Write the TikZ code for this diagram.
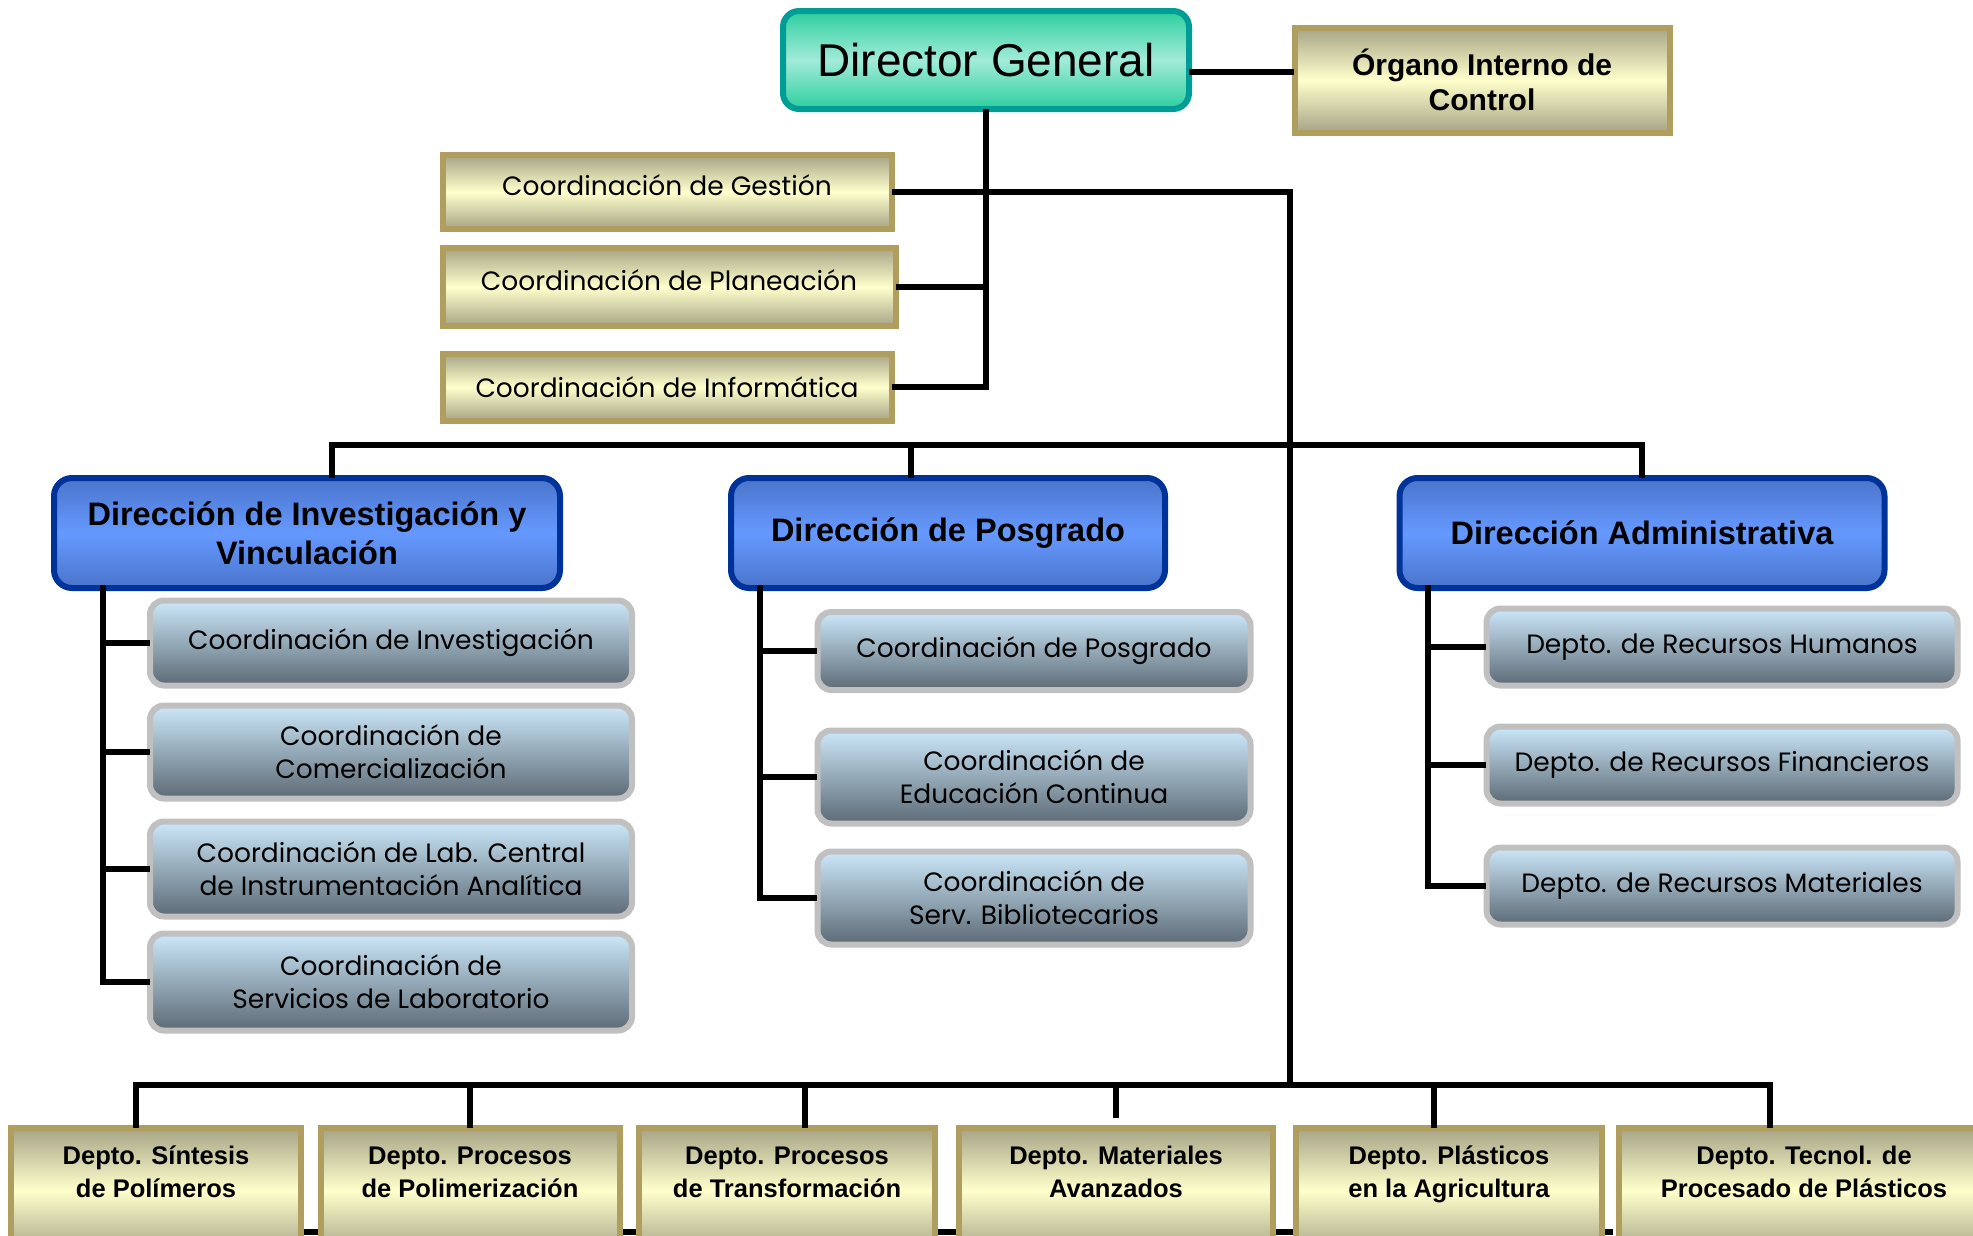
\documentclass[tikz,border=0pt]{standalone}
\usepackage{fontspec}
\setmainfont{Liberation Sans}
\newfontfamily\gothicfont{Poppins}
\usetikzlibrary{positioning}

\definecolor{tealborder}{HTML}{009C96}
\definecolor{tealedge}{HTML}{2CCF9E}
\definecolor{tealmid}{HTML}{A2EBD9}
\definecolor{khakiborder}{HTML}{B09E5E}
\definecolor{khakiedge}{HTML}{A6A486}
\definecolor{khakimid}{HTML}{FFFFCC}
\definecolor{blueborder}{HTML}{003399}
\definecolor{blueedge}{HTML}{4A74CB}
\definecolor{bluemid}{HTML}{6699FF}
\definecolor{greyborder}{HTML}{C0C0C0}
\definecolor{greytop}{HTML}{CCE8FA}
\definecolor{greybottom}{HTML}{5C6A75}

% keeps the two lines of a department at the same height
\newcommand{\ds}{\rule[-9pt]{0pt}{33pt}}

\tikzset{
  link/.style={line width=5.5pt, line cap=rect},
  director/.style={draw=tealborder, line width=6pt, rounded corners=16pt,
    top color=tealedge, bottom color=tealedge, middle color=tealmid,
    font=\fontsize{46}{52}\selectfont},
  khaki/.style={draw=khakiborder, line width=6pt,
    top color=khakiedge, bottom color=khakiedge, middle color=khakimid,
    align=center},
  coordbox/.style={khaki, font=\gothicfont\fontsize{26.5}{33}\selectfont},
  raised/.style={text height=20pt, text depth=14pt},
  organobox/.style={khaki, font=\bfseries\fontsize{30}{35}\selectfont},
  deptobox/.style={khaki, anchor=north, minimum height=125pt},
  deptotext/.style={align=center, font=\bfseries\fontsize{25.5}{33}\selectfont},
  direccion/.style={draw=blueborder, line width=6pt, rounded corners=18pt,
    top color=blueedge, bottom color=blueedge, middle color=bluemid,
    align=center, minimum height=110pt,
    font=\bfseries\fontsize{32.5}{39}\selectfont},
  unidad/.style={draw=greyborder, line width=6pt, rounded corners=14pt,
    top color=greytop, bottom color=greybottom, align=center,
    font=\gothicfont\fontsize{26.5}{33}\selectfont}
}

\begin{document}
\begin{tikzpicture}[x=1pt, y=-1pt]
  \useasboundingbox (0,0) rectangle (1973,1235);

  % line along the lower edge, behind the departments
  \coordinate (edgeL) at (250,1232);
  \coordinate (edgeR) at (1610,1232);
  \draw [link] (edgeL) -- (edgeR);

  % top of the chart
  \node [director, minimum width=406pt, minimum height=98pt] (dg) at (986,60) {Director General};
  \node [organobox, minimum width=375pt, minimum height=105pt] (organo) at (1482,80) {Órgano Interno de\\Control};

  \node [coordbox, raised, minimum width=449pt, minimum height=74pt] (gestion) at (667,192) {Coordinación de Gestión};
  \node [coordbox, raised, minimum width=453pt, minimum height=78pt] (planeacion) at (669,287) {Coordinación de Planeación};
  \node [coordbox, minimum width=449pt, minimum height=67pt] (informatica) at (667,387) {Coordinación de Informática};

  % direcciones
  \node [direccion, minimum width=506pt] (invest) at (307,533) {Dirección de Investigación y\\Vinculación};
  \node [direccion, minimum width=434pt] (posgrado) at (948,533) {Dirección de Posgrado};
  \node [direccion, minimum width=485pt] (admin) at (1642,533) {Dirección Administrativa};

  \begin{scope}[every node/.style={unidad, minimum width=482pt}]
    \node [minimum height=85pt] (inv1) at (391,643) {Coordinación de Investigación};
    \node [minimum height=93pt] (inv2) at (391,752) {Coordinación de\\Comercialización};
    \node [minimum height=95pt] (inv3) at (391,869) {Coordinación de Lab. Central\\de Instrumentación Analítica};
    \node [minimum height=97pt] (inv4) at (391,982) {Coordinación de\\Servicios de Laboratorio};
  \end{scope}

  \begin{scope}[every node/.style={unidad, minimum width=433pt}]
    \node [minimum height=78pt] (pos1) at (1034,651) {Coordinación de Posgrado};
    \node [minimum height=93pt] (pos2) at (1034,777) {Coordinación de\\Educación Continua};
    \node [minimum height=93pt] (pos3) at (1034,898) {Coordinación de\\Serv. Bibliotecarios};
  \end{scope}

  \begin{scope}[every node/.style={unidad, minimum width=471pt, minimum height=77pt}]
    \node (adm1) at (1722,647) {Depto. de Recursos Humanos};
    \node (adm2) at (1722,765) {Depto. de Recursos Financieros};
    \node (adm3) at (1722,886) {Depto. de Recursos Materiales};
  \end{scope}

  % departamentos
  \node [deptobox, minimum width=290pt] (d1) at (156,1125) {};
  \node [deptobox, minimum width=299pt] (d2) at (470,1125) {};
  \node [deptobox, minimum width=296pt] (d3) at (787,1125) {};
  \node [deptobox, minimum width=314pt] (d4) at (1116,1125) {};
  \node [deptobox, minimum width=306pt] (d5) at (1449,1125) {};
  \node [deptobox, minimum width=371pt] (d6) at (1804,1125) {};

  \node [deptotext, yshift=-48pt] (d1t) at (d1.north) {\ds Depto. Síntesis\\\ds de Polímeros};
  \node [deptotext, yshift=-48pt] (d2t) at (d2.north) {\ds Depto. Procesos\\\ds de Polimerización};
  \node [deptotext, yshift=-48pt] (d3t) at (d3.north) {\ds Depto. Procesos\\\ds de Transformación};
  \node [deptotext, yshift=-48pt] (d4t) at (d4.north) {\ds Depto. Materiales\\\ds Avanzados};
  \node [deptotext, yshift=-48pt] (d5t) at (d5.north) {\ds Depto. Plásticos\\\ds en la Agricultura};
  \node [deptotext, yshift=-48pt] (d6t) at (d6.north) {\ds Depto. Tecnol. de\\\ds Procesado de Plásticos};

  % joints
  \coordinate (oj) at (1240,72);
  \coordinate (busTop) at (1290,445);
  \coordinate (busLow) at (1290,1085);
  \coordinate (invT) at (103,588);
  \coordinate (posT) at (760,588);
  \coordinate (admT) at (1428,588);

  \draw [link] (dg.east |- oj) -- (organo.west |- oj);
  \draw [link] (dg.south) -- (dg.south |- informatica.east);
  \draw [link] (informatica.east) -- (dg.south |- informatica.east);
  \draw [link] (planeacion.east) -- (dg.south |- planeacion.east);
  \draw [link] (gestion.east) -| (busLow);

  \draw [link] ([xshift=25pt]invest.north) |- (admin.north |- busTop) -- (admin.north);
  \draw [link] ([xshift=-37pt]posgrado.north) -- ([xshift=-37pt]posgrado.north |- busTop);

  \draw [link] (invT) |- (inv4.west);
  \draw [link] (invT |- inv1.west) -- (inv1.west);
  \draw [link] (invT |- inv2.west) -- (inv2.west);
  \draw [link] (invT |- inv3.west) -- (inv3.west);

  \draw [link] (posT) |- (pos3.west);
  \draw [link] (posT |- pos1.west) -- (pos1.west);
  \draw [link] (posT |- pos2.west) -- (pos2.west);

  \draw [link] (admT) |- (adm3.west);
  \draw [link] (admT |- adm1.west) -- (adm1.west);
  \draw [link] (admT |- adm2.west) -- (adm2.west);

  \draw [link] ([xshift=-20pt]d1.north) |- ([xshift=-34pt]d6.north |- busLow) -- ([xshift=-34pt]d6.north);
  \draw [link] (d2.north) -- (d2.north |- busLow);
  \draw [link] ([xshift=18pt]d3.north) -- ([xshift=18pt]d3.north |- busLow);
  \draw [link] ([yshift=10pt]d4.north) -- (d4.north |- busLow);
  \draw [link] ([xshift=-15pt]d5.north) -- ([xshift=-15pt]d5.north |- busLow);

\end{tikzpicture}
\end{document}
